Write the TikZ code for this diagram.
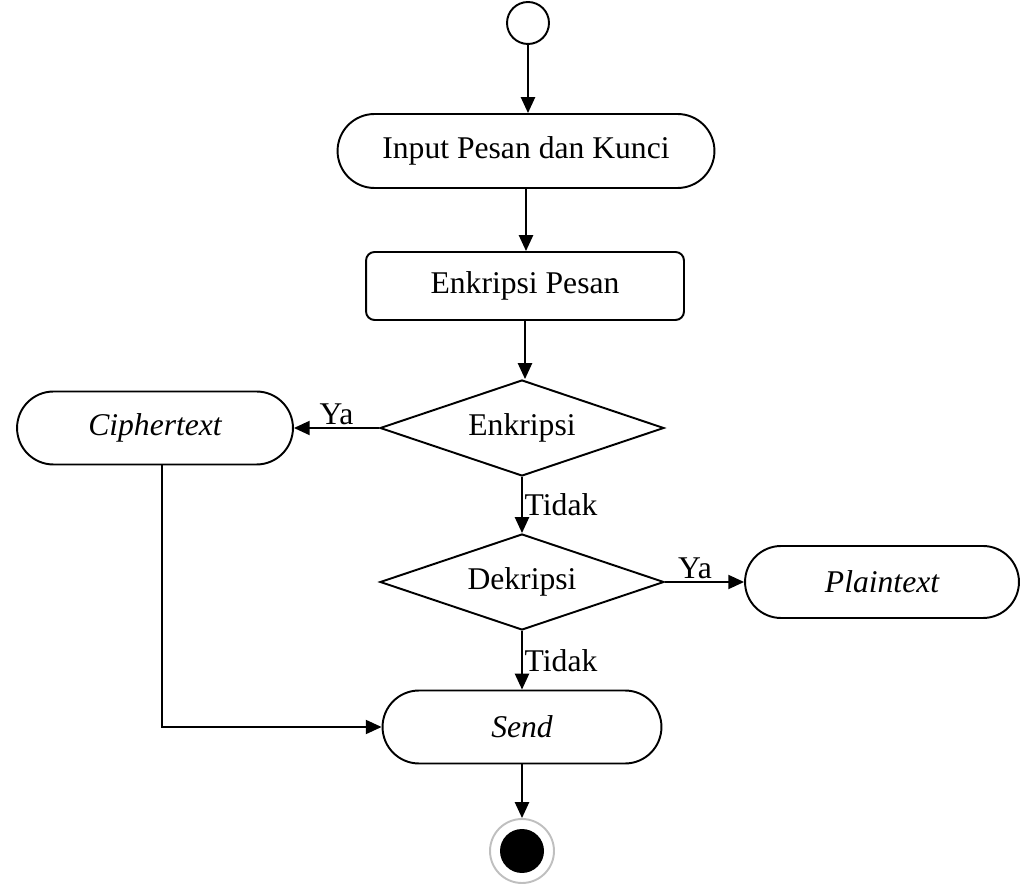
\documentclass[tikz,border=0pt]{standalone}
\usepackage{fontspec}
\setmainfont{Liberation Serif}
\usetikzlibrary{arrows.meta,shapes.geometric,shapes.misc}

\tikzset{
  base/.style={draw, line width=1.1pt, font=\fontsize{18}{22}\selectfont, inner sep=2pt},
  startnode/.style={circle, draw, line width=1.1pt, minimum size=0.84cm, inner sep=0pt},
  actbox/.style={base, rounded rectangle, minimum width=#1, minimum height=1.46cm},
  procbox/.style={base, rectangle, rounded corners=0.17cm, minimum width=6.36cm, minimum height=1.36cm},
  decision/.style={base, diamond, aspect=2.96, inner sep=0pt, minimum width=5.68cm, minimum height=1.92cm},
  endring/.style={circle, draw=gray!50, line width=1.1pt, minimum size=1.28cm, inner sep=0pt},
  enddot/.style={circle, fill=black, minimum size=0.88cm, inner sep=0pt},
  lbl/.style={font=\fontsize{18}{22}\selectfont, inner sep=1pt}
}

\begin{document}
\begin{tikzpicture}[x=0.02cm, y=-0.02cm, >={Triangle[length=9pt,width=8pt]}, line width=1.1pt]
  \useasboundingbox (0,0) rectangle (1024,884);

  % flow nodes
  \node[startnode] (start) at (528,23) {};
  \node[actbox=7.68cm, minimum height=1.48cm] (input) at (526,151) {Input Pesan dan Kunci};
  \node[procbox] (encmsg) at (525,286) {Enkripsi Pesan};
  \node[decision] (isenc) at (522,428) {Enkripsi};
  \node[actbox=5.66cm] (cipher) at (155,428) {\itshape Ciphertext};
  \node[decision] (isdec) at (522,582) {Dekripsi};
  \node[actbox=5.62cm, minimum height=1.44cm] (plain) at (882,582) {\itshape Plaintext};
  \node[actbox=5.72cm] (send) at (522,727) {\itshape Send};
  \node[endring] (stop) at (522,851) {};
  \node[enddot] (stopdot) at (stop) {};

  % connectors
  \draw[->] (start) -- (start |- input.north);
  \draw[->] (input) -- (input |- encmsg.north);
  \draw[->] (encmsg) -- (encmsg |- isenc.north);
  \draw[->] (isenc.west) -- node[lbl, above] {Ya} (cipher.east);
  \draw[->] (isenc.south) -- node[lbl, right] {Tidak} (isdec.north);
  \draw[->] (isdec.east) -- node[lbl, above, pos=0.38] {Ya} (plain.west);
  \draw[->] (isdec.south) -- node[lbl, right] {Tidak} (send.north);
  \draw[->] ([xshift=0.14cm]cipher.south) |- (send.west);
  \draw[->] (send.south) -- (stop.north);
\end{tikzpicture}
\end{document}
